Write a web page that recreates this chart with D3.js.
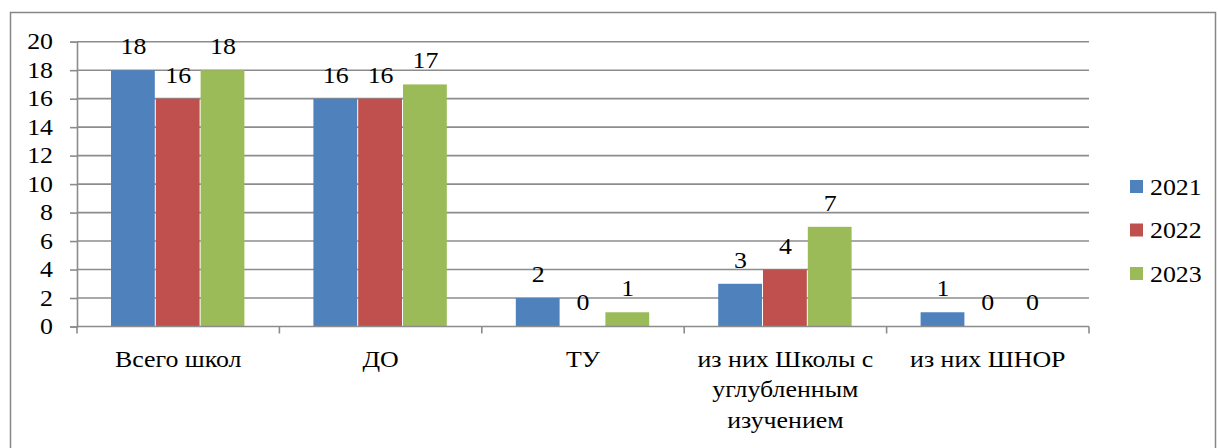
<!DOCTYPE html>
<html>
<head>
<meta charset="utf-8">
<script src="https://cdn.jsdelivr.net/npm/d3@7"></script>
</head>
<body style="margin:0">
<svg id="s" width="1218" height="448"></svg>
<script>
const categories = ["Всего школ", "ДО", "ТУ", "из них Школы с углубленным изучением", "из них ШНОР"];
const seriesNames = ["2021", "2022", "2023"];
const values2021 = [18, 16, 2, 3, 1];
const values2022 = [16, 16, 0, 4, 0];
const values2023 = [18, 17, 1, 7, 0];
const yTicks = [0, 2, 4, 6, 8, 10, 12, 14, 16, 18, 20];
const colors = ["#4F81BD", "#C0504D", "#9BBB59"];

const seriesValues = [values2021, values2022, values2023];
const svg = d3.select("#s");
const plotLeft = 77, plotRight = 1089, plotTop = 41.7, plotBottom = 326.5;
const fs = 22.5, sx = 1.15;
const gridColor = "#8c8c8c";

// helper: serif text, slightly stretched horizontally, appended directly to the svg
function addText(x, y, str, anchor) {
  return svg.append("text")
    .attr("x", x / sx)
    .attr("y", y)
    .attr("transform", `scale(${sx},1)`)
    .attr("text-anchor", anchor || "middle")
    .style("font-family", "Liberation Serif")
    .style("font-size", fs + "px")
    .text(str);
}

// outer border
svg.append("rect").attr("x", 10.5).attr("y", 12.5).attr("width", 1205).attr("height", 460)
  .attr("fill", "none").attr("stroke", "#868686").attr("stroke-width", 1.5);

const x0 = d3.scaleBand().domain(categories).range([plotLeft, plotRight]).paddingInner(0).paddingOuter(0);
const bw = 44.8;
const x1 = d3.scaleBand().domain(seriesNames).range([0, bw * 3]);
const y = d3.scaleLinear().domain([0, 20]).range([plotBottom, plotTop]);

// gridlines
svg.append("g").selectAll("line").data(yTicks.filter(d => d > 0)).join("line")
  .attr("x1", plotLeft).attr("x2", plotRight)
  .attr("y1", d => y(d)).attr("y2", d => y(d))
  .attr("stroke", gridColor).attr("stroke-width", 1.6);

// y axis line + ticks
const yAxis = svg.append("g").attr("transform", `translate(${plotLeft},0)`)
  .call(d3.axisLeft(y).tickValues(yTicks).tickSize(7).tickFormat(""));
yAxis.select(".domain").attr("stroke", gridColor).attr("stroke-width", 1.6);
yAxis.selectAll(".tick line").attr("stroke", gridColor).attr("stroke-width", 1.6);
yAxis.selectAll(".tick text").remove();
yTicks.forEach(v => addText(53, y(v) + 7.8, String(v), "end"));

// bars
const groupOffset = (x0.bandwidth() - bw * 3) / 2;
seriesValues.forEach((vals, si) => {
  svg.append("g").selectAll("rect").data(vals).join("rect")
    .attr("x", (d, i) => x0(categories[i]) + groupOffset + x1(seriesNames[si]))
    .attr("y", d => y(d))
    .attr("width", x1.bandwidth() - 1)
    .attr("height", d => y(0) - y(d))
    .attr("fill", colors[si]);
});

// x axis
svg.append("line").attr("x1", plotLeft).attr("x2", plotRight).attr("y1", plotBottom).attr("y2", plotBottom)
  .attr("stroke", gridColor).attr("stroke-width", 1.6);
const tickXs = categories.map(c => x0(c)).concat([plotRight]);
svg.append("g").selectAll("line").data(tickXs).join("line")
  .attr("x1", d => d).attr("x2", d => d).attr("y1", plotBottom).attr("y2", plotBottom + 7)
  .attr("stroke", gridColor).attr("stroke-width", 1.6);

// category labels, wrapped by word to fit the band
const lineH = 30.5;
const maxW = 190;
const approxCharW = fs * 0.5 * sx;
categories.forEach(c => {
  const cx = x0(c) + x0.bandwidth() / 2;
  const words = c.split(" ");
  const lines = [];
  let line = [];
  words.forEach(w => {
    line.push(w);
    if (line.join(" ").length * approxCharW > maxW && line.length > 1) {
      line.pop();
      lines.push(line.join(" "));
      line = [w];
    }
  });
  lines.push(line.join(" "));
  lines.forEach((l, li) => addText(cx, plotBottom + 40.5 + li * lineH, l, "middle"));
});

// data labels
seriesValues.forEach((vals, si) => {
  vals.forEach((d, i) => {
    const cx = x0(categories[i]) + groupOffset + x1(seriesNames[si]) + x1.bandwidth() / 2;
    addText(cx, y(d) - 16, String(d), "middle");
  });
});

// legend
seriesNames.forEach((s, i) => {
  const ly = 187 + i * 43.5;
  svg.append("rect").attr("x", 1130).attr("y", ly - 7).attr("width", 13).attr("height", 13).attr("fill", colors[i]);
  addText(1150, ly + 8, s, "start");
});
</script>
</body>
</html>
